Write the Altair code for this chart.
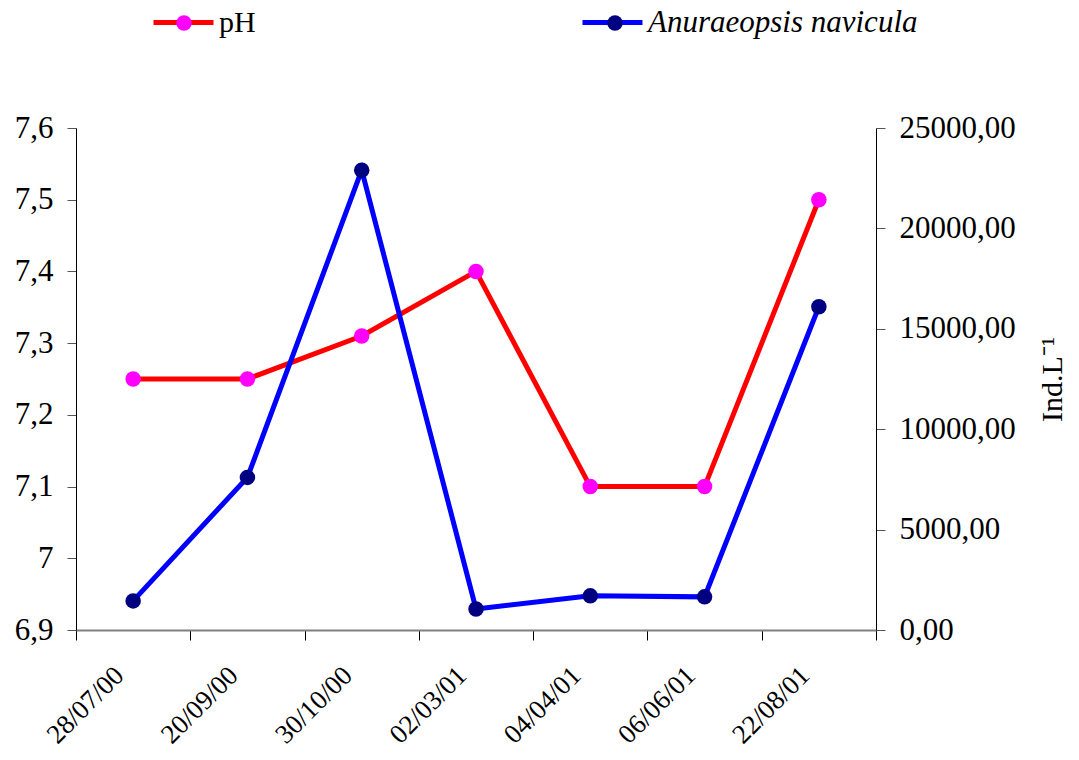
import altair as alt
import pandas as pd

dates = ["28/07/00", "20/09/00", "30/10/00", "02/03/01", "04/04/01", "06/06/01", "22/08/01"]
ph_values = [7.25, 7.25, 7.31, 7.40, 7.10, 7.10, 7.50]
ind_values = [1450, 7600, 22900, 1050, 1700, 1650, 16100]
ph_ticks = [6.9, 7.0, 7.1, 7.2, 7.3, 7.4, 7.5, 7.6]
ind_ticks = [0, 5000, 10000, 15000, 20000, 25000]

df = pd.DataFrame({
    "date": dates,
    "ph": ph_values,
    "ind": ind_values,
    "s_ph": ["pH"] * len(dates),
    "f_ph": ["pH_pt"] * len(dates),
    "s_ind": ["Anuraeopsis navicula"] * len(dates),
    "f_ind": ["Anuraeopsis_pt"] * len(dates),
})

FONT = "Liberation Serif"

x_axis = alt.Axis(
    title=None, tickBand="extent", labelAngle=315, labelAlign="right",
    labelBaseline="middle", labelFontSize=27, labelFont=FONT, labelColor="black",
    labelPadding=31, labelOffset=-14, tickSize=10, tickColor="black",
    domainColor="#808080", domainWidth=2, grid=False,
)
x_scale = alt.Scale(type="band", paddingInner=0, paddingOuter=0)


def x_enc():
    return alt.X("date:N", sort=dates, scale=x_scale, axis=x_axis)


y_ph_scale = alt.Scale(domain=[6.9, 7.6], nice=False, zero=False)
y_ind_scale = alt.Scale(domain=[0, 25000], nice=False)

ph_axis = alt.Axis(
    title=None, values=ph_ticks, orient="left",
    labelExpr="replace(format(datum.value, '.2~g'), '.', ',')",
    labelFontSize=31, labelFont=FONT, labelColor="black", labelPadding=14,
    tickSize=9, tickColor="#555", domainColor="black", grid=False)

ind_axis = alt.Axis(
    title="Ind.L\u207b\u00b9", values=ind_ticks, orient="right",
    labelExpr="replace(format(datum.value, '.2f'), '.', ',')",
    labelFontSize=31, labelFont=FONT, labelColor="black", labelPadding=14,
    tickSize=9, tickColor="#555", domainColor="black", grid=False,
    titleAngle=270, titleFont=FONT, titleFontSize=30, titleFontWeight="normal",
    titleColor="black", titlePadding=52)

ph_line = alt.Chart(df).mark_line(strokeWidth=5).encode(
    x=x_enc(),
    y=alt.Y("ph:Q", scale=y_ph_scale, axis=ph_axis),
    stroke=alt.Stroke("s_ph:N", scale=alt.Scale(domain=["pH"], range=["#FF0000"]),
                      legend=alt.Legend(orient="none", legendX=75, legendY=-138, title=None,
                                        symbolType="stroke", symbolSize=3600,
                                        symbolStrokeWidth=5, labelFont=FONT,
                                        labelFontSize=30, labelColor="black",
                                        labelOffset=3, labelLimit=0, padding=0)),
)
ph_pts = alt.Chart(df).mark_point(filled=True, size=240, opacity=1).encode(
    x=x_enc(),
    y=alt.Y("ph:Q", scale=y_ph_scale, axis=ph_axis),
    fill=alt.Fill("f_ph:N", scale=alt.Scale(domain=["pH_pt"], range=["#FF00FF"]),
                  legend=alt.Legend(orient="none", legendX=95, legendY=-118, title=None,
                                    symbolType="circle", symbolSize=240,
                                    symbolStrokeWidth=0, symbolOpacity=1,
                                    labelExpr="''", labelFontSize=26, padding=0)),
)

ind_line = alt.Chart(df).mark_line(strokeWidth=5).encode(
    x=x_enc(),
    y=alt.Y("ind:Q", scale=y_ind_scale, axis=ind_axis),
    stroke=alt.Stroke("s_ind:N", scale=alt.Scale(domain=["Anuraeopsis navicula"], range=["#0000FF"]),
                      legend=alt.Legend(orient="none", legendX=504, legendY=-138, title=None,
                                        symbolType="stroke", symbolSize=3600,
                                        symbolStrokeWidth=5, labelFont=FONT,
                                        labelFontSize=31, labelFontStyle="italic",
                                        labelColor="black", labelOffset=3, labelLimit=0,
                                        padding=0)),
)
ind_pts = alt.Chart(df).mark_point(filled=True, size=240, opacity=1).encode(
    x=x_enc(),
    y=alt.Y("ind:Q", scale=y_ind_scale, axis=ind_axis),
    fill=alt.Fill("f_ind:N", scale=alt.Scale(domain=["Anuraeopsis_pt"], range=["#000080"]),
                  legend=alt.Legend(orient="none", legendX=526, legendY=-118, title=None,
                                    symbolType="circle", symbolSize=240,
                                    symbolStrokeWidth=0, symbolOpacity=1,
                                    labelExpr="''", labelFontSize=26, padding=0)),
)

ph_layer = alt.layer(ph_line, ph_pts)
ind_layer = alt.layer(ind_line, ind_pts)

chart = alt.layer(ph_layer, ind_layer).resolve_scale(
    y="independent", stroke="independent", fill="independent"
).properties(
    width=800, height=502, background="white",
    autosize=alt.AutoSizeParams(type="none"),
    padding={"left": 68, "top": 120, "right": 195, "bottom": 122},
).configure_view(stroke=None)

chart.save("out.html", embed_options={"renderer": "svg", "actions": False})
